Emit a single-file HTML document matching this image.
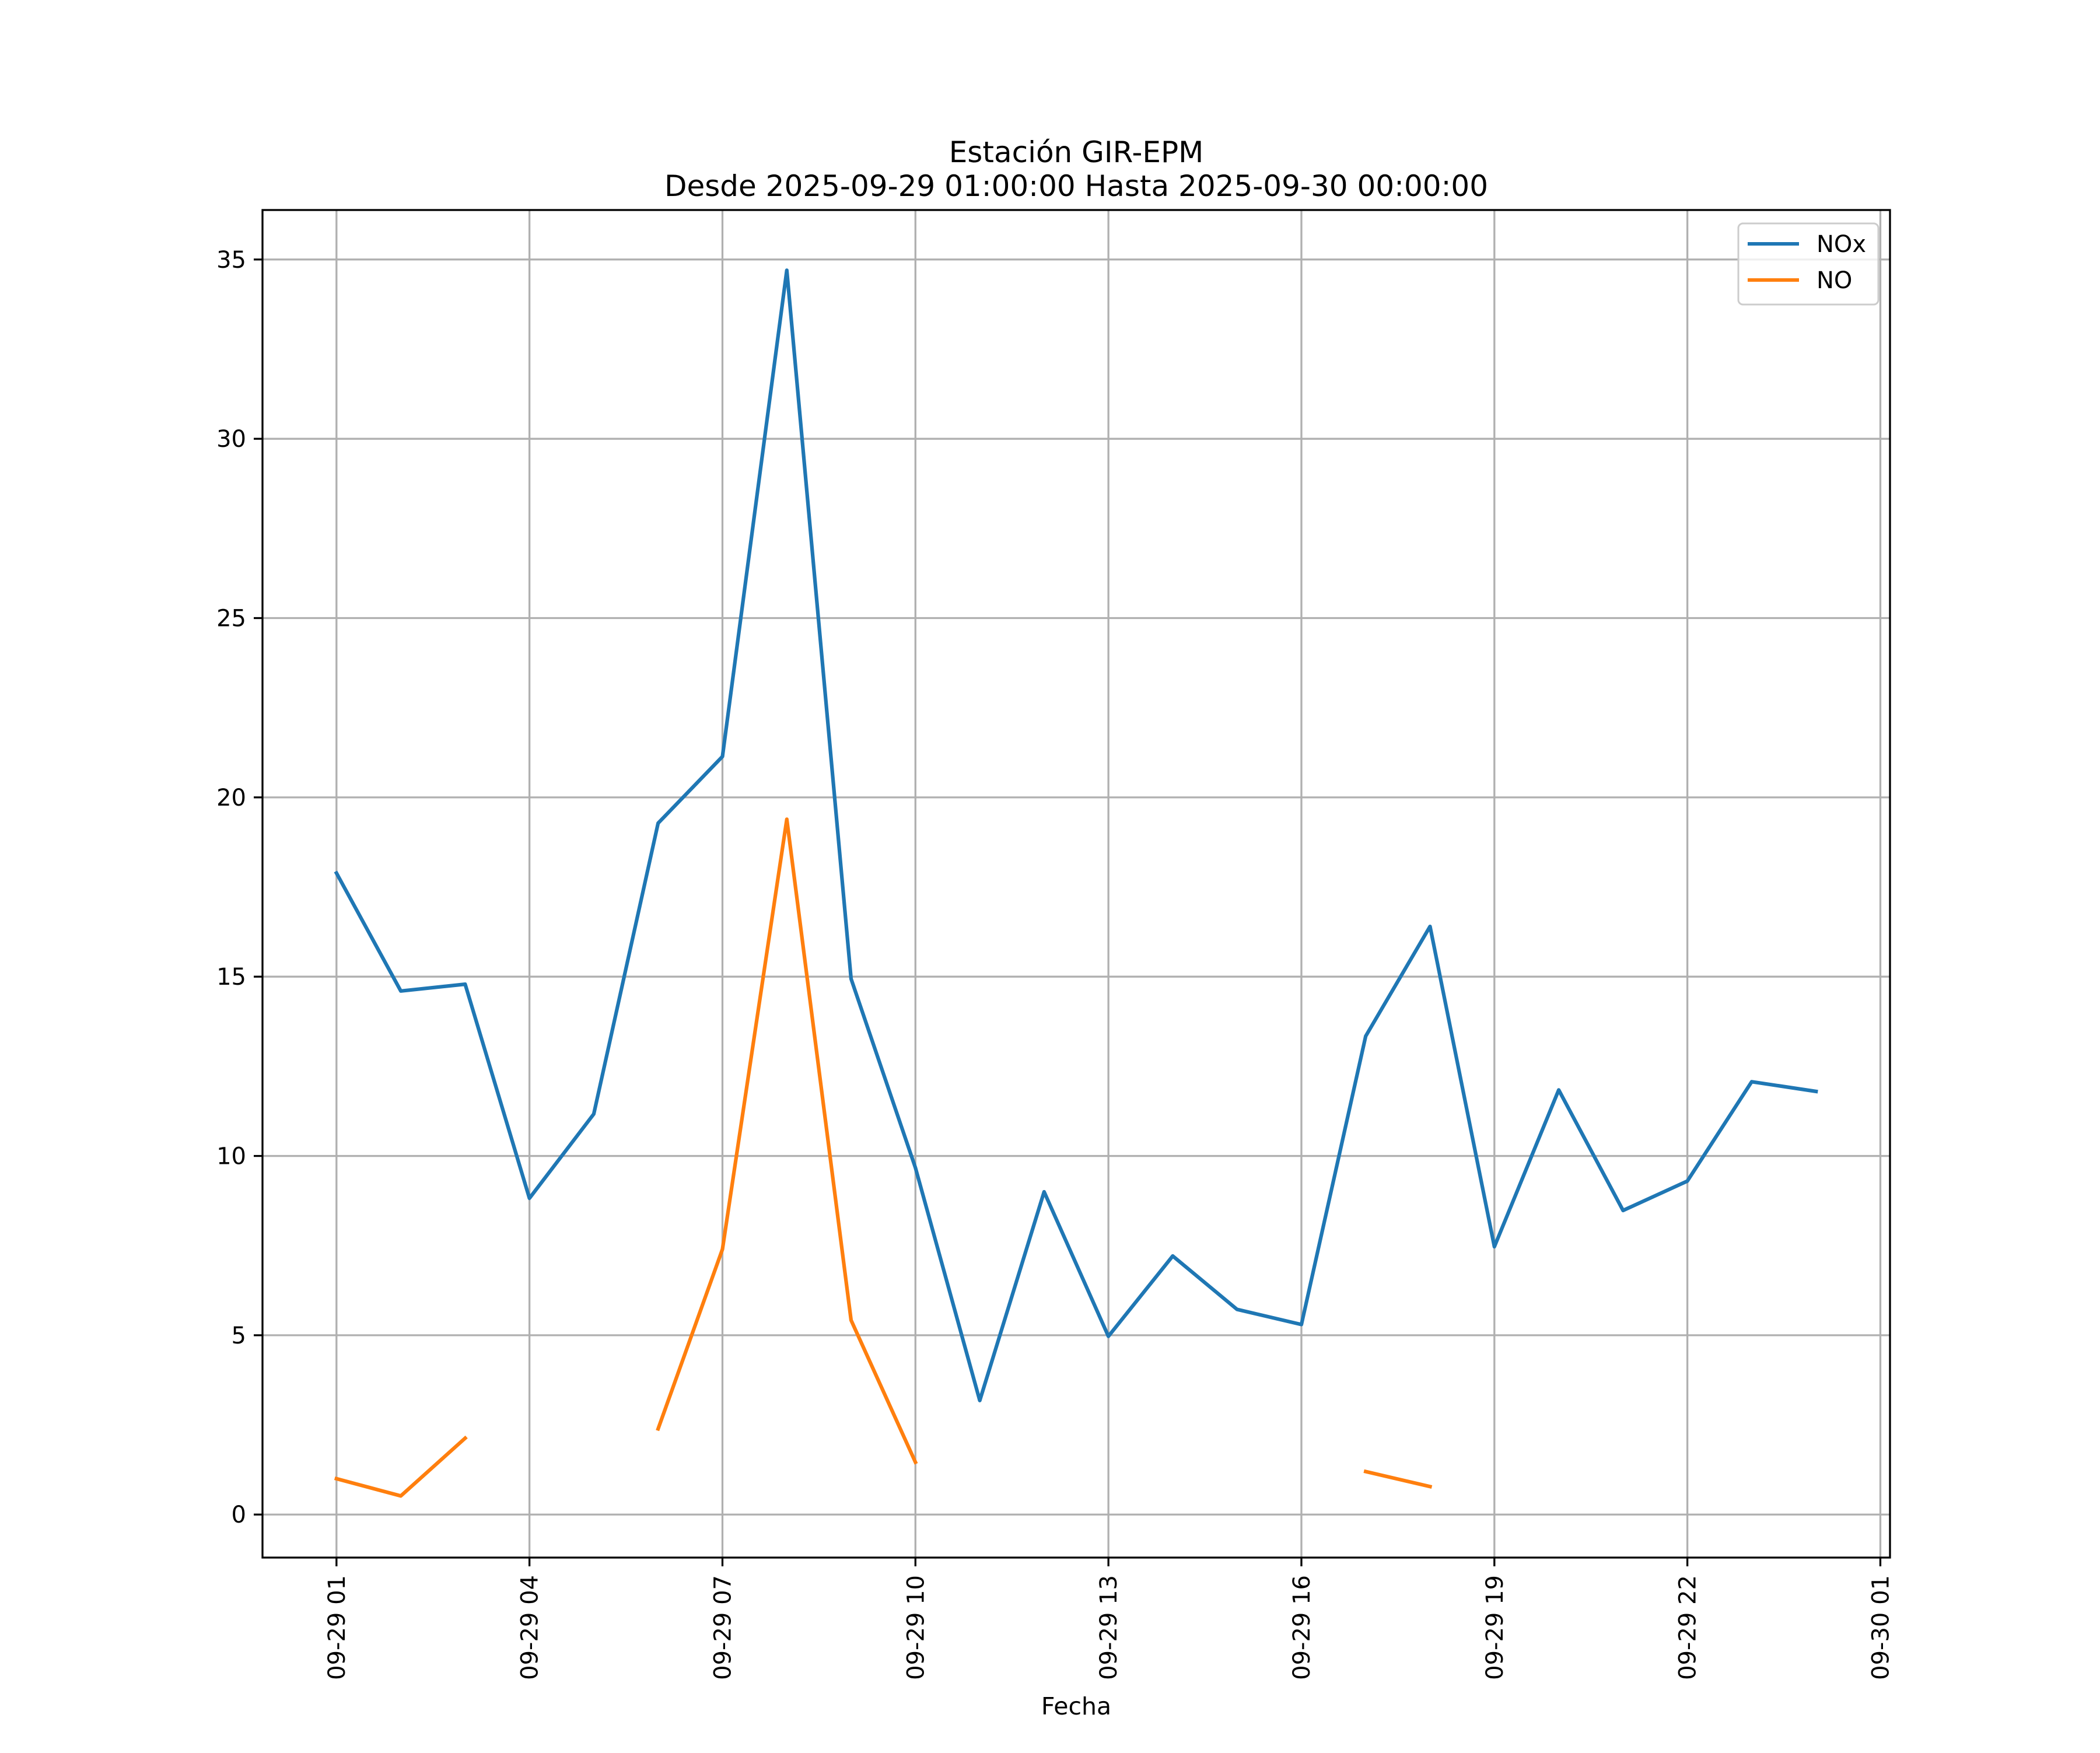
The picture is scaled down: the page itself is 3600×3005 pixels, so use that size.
<!DOCTYPE html>
<html><head><meta charset="utf-8"><style>
html,body{margin:0;padding:0;background:#fff;}
svg text{font-family:"DejaVu Sans","Liberation Sans",sans-serif;fill:#000;}
</style></head><body>
<svg id="chart" width="3600" height="3000" viewBox="0 0 3600 3000" xmlns="http://www.w3.org/2000/svg">
<rect width="3600" height="3000" fill="#fff"/>
<text x="1845" y="278" font-size="50" text-anchor="middle">Estación GIR-EPM</text>
<text x="1845" y="336" font-size="50" text-anchor="middle">Desde 2025-09-29 01:00:00 Hasta 2025-09-30 00:00:00</text>
<g id="grid"></g><g id="series"></g><g id="axes"></g>
<text x="1845" y="2939" font-size="41" text-anchor="middle">Fecha</text>
<g id="legend">
<rect x="2980" y="383" width="240" height="139" rx="8" fill="#fff" fill-opacity="0.8" stroke="#ccc" stroke-width="3"/>
<line x1="2996" y1="418" x2="3084" y2="418" stroke="#1f77b4" stroke-width="6"/>
<text x="3114" y="432" font-size="40">NOx</text>
<line x1="2996" y1="480" x2="3084" y2="480" stroke="#ff7f0e" stroke-width="6"/>
<text x="3114" y="494" font-size="40">NO</text>
</g>
</svg>
<script>
const hours = [0,1,2,3,4,5,6,7,8,9,10,11,12,13,14,15,16,17,18,19,20,21,22,23];
const noxValues = [17.89,14.6,14.79,8.82,11.17,19.28,21.14,34.7,14.94,9.67,3.18,9.0,4.97,7.21,5.72,5.3,13.34,16.4,7.47,11.84,8.48,9.3,12.07,11.8];
const noValues = [1.0,0.52,2.13,null,null,2.39,7.4,19.39,5.42,1.46,null,null,null,null,null,null,1.2,0.78,null,null,null,null,null,null];
const xTickHours = [0,3,6,9,12,15,18,21,24];
const xTickLabels = ["09-29 01","09-29 04","09-29 07","09-29 10","09-29 13","09-29 16","09-29 19","09-29 22","09-30 01"];
const yTicks = [0,5,10,15,20,25,30,35];

const L=450,R=3240,T=360,B=2670, X0=-1.15,X1=24.15,Y0=-1.2,Y1=36.38;
const xs=h=>L+(h-X0)/(X1-X0)*(R-L);
const ys=v=>B-(v-Y0)/(Y1-Y0)*(B-T);
const NS="http://www.w3.org/2000/svg";
function mk(tag,attrs,parent){const e=document.createElementNS(NS,tag);for(const k in attrs)e.setAttribute(k,attrs[k]);parent.appendChild(e);return e;}
const grid=document.getElementById('grid'),axes=document.getElementById('axes'),series=document.getElementById('series');

xTickHours.forEach((h,i)=>{
  const x=xs(h);
  const g=mk('line',{x1:x,y1:T,x2:x,y2:B,stroke:'#b0b0b0','stroke-width':3.3},grid);
  
  
  const t=mk('line',{x1:x,y1:B,x2:x,y2:B+15,stroke:'#000','stroke-width':3.3},axes);
  
  
  const lb=mk('text',{x:0,y:0,'font-size':40,'text-anchor':'end',transform:`translate(${x+14},${B+30}) rotate(-90)`},axes);
  lb.textContent=xTickLabels[i];
  
  
});
yTicks.forEach(v=>{
  const y=ys(v);
  const g=mk('line',{x1:L,y1:y,x2:R,y2:y,stroke:'#b0b0b0','stroke-width':3.3},grid);
  
  
  const t=mk('line',{x1:L-15,y1:y,x2:L,y2:y,stroke:'#000','stroke-width':3.3},axes);
  
  
  const lb=mk('text',{x:L-28,y:y+14,'font-size':40,'text-anchor':'end'},axes);
  lb.textContent=String(v);
  
  
});
const frame=mk('rect',{x:L,y:T,width:R-L,height:B-T,fill:'none',stroke:'#000','stroke-width':3.3},axes);



function drawSeries(vals,color,name){
  let d='',pen=false;
  vals.forEach((v,i)=>{
    if(v===null){pen=false;return;}
    d+=(pen?'L':'M')+xs(hours[i]).toFixed(1)+' '+ys(v).toFixed(1)+' ';
    pen=true;
  });
  const p=mk('path',{d:d,fill:'none',stroke:color,'stroke-width':6.25,'stroke-linejoin':'round','stroke-linecap':'square'},series);
  
  
}
drawSeries(noxValues,'#1f77b4','nox-line');
drawSeries(noValues,'#ff7f0e','no-line');
</script>
</body></html>
